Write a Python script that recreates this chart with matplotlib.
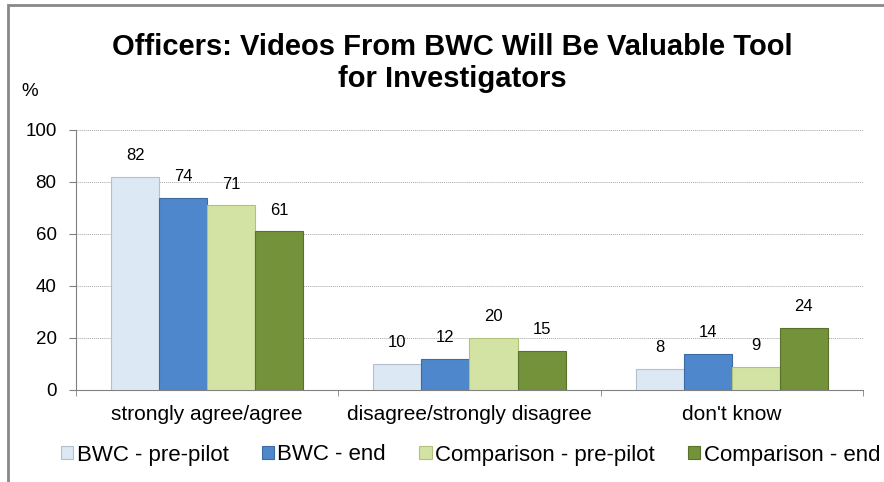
import matplotlib.pyplot as plt
import numpy as np
from matplotlib.patches import Rectangle

plt.rcParams['font.family'] = ['Liberation Sans', 'DejaVu Sans']

categories = ["strongly agree/agree", "disagree/strongly disagree", "don't know"]
series_names = ["BWC - pre-pilot", "BWC - end", "Comparison - pre-pilot", "Comparison - end"]
bwc_pre = [82, 10, 8]
bwc_end = [74, 12, 14]
comp_pre = [71, 20, 9]
comp_end = [61, 15, 24]
series = [bwc_pre, bwc_end, comp_pre, comp_end]
colors = ["#dde8f5", "#4f87cc", "#d2e3a3", "#74923a"]
edges = ["#b4c0ce", "#3c6aa5", "#b0c27e", "#58722a"]

W, H = 884, 482
fig = plt.figure(figsize=(W / 100, H / 100), dpi=100)
ax = fig.add_axes([76 / W, 1 - 390 / H, 787 / W, 260 / H])

x = np.arange(len(categories))
w = 0.183
for i, vals in enumerate(series):
    pos = x + (i - 1.5) * w
    bars = ax.bar(pos, vals, w, color=colors[i], edgecolor=edges[i], linewidth=0.8,
                  label=series_names[i], zorder=3)
    for b, v in zip(bars, vals):
        ax.text(b.get_x() + b.get_width() / 2, v + 8.2, str(v), ha='center', va='center',
                fontsize=12)

ax.set_xlim(-0.5, 2.5)
ax.set_ylim(0, 100)
ax.set_yticks(range(0, 101, 20))
ax.set_xticks(x)
ax.set_xticklabels(categories, fontsize=15)
ax.set_xticks([-0.5, 0.5, 1.5, 2.5], minor=True)
ax.tick_params(axis='y', labelsize=13.5, length=5, color='#808080', pad=9)
ax.tick_params(axis='x', which='major', length=0, pad=11)
ax.tick_params(axis='x', which='minor', length=4, color='#808080')
ax.yaxis.grid(True, linestyle=(0, (1, 1)), color='#a8a8a8', linewidth=0.7, zorder=0)
for s in ['top', 'right']:
    ax.spines[s].set_visible(False)
ax.spines['left'].set_color('#808080')
ax.spines['bottom'].set_color('#808080')

fig.text(30 / W, 1 - 92 / H, "%", fontsize=13.5, ha='center', va='center')
fig.text(452 / W, 1 - 63 / H, "Officers: Videos From BWC Will Be Valuable Tool\nfor Investigators",
         fontsize=21, fontweight='bold', ha='center', va='center', linespacing=1.2)

leg = fig.legend(loc='center left', bbox_to_anchor=(50 / W, 1 - 455 / H), ncol=4, frameon=False,
                 fontsize=16, handlelength=0.55, handleheight=0.55, handletextpad=0.15,
                 columnspacing=1.5, borderpad=0)

fig.patches.append(Rectangle((8 / W, -0.1), 1.2, 1 - 5 / H + 0.1, transform=fig.transFigure,
                             fill=False, edgecolor='#888888', linewidth=2))

fig.savefig("out.png", dpi=100)
